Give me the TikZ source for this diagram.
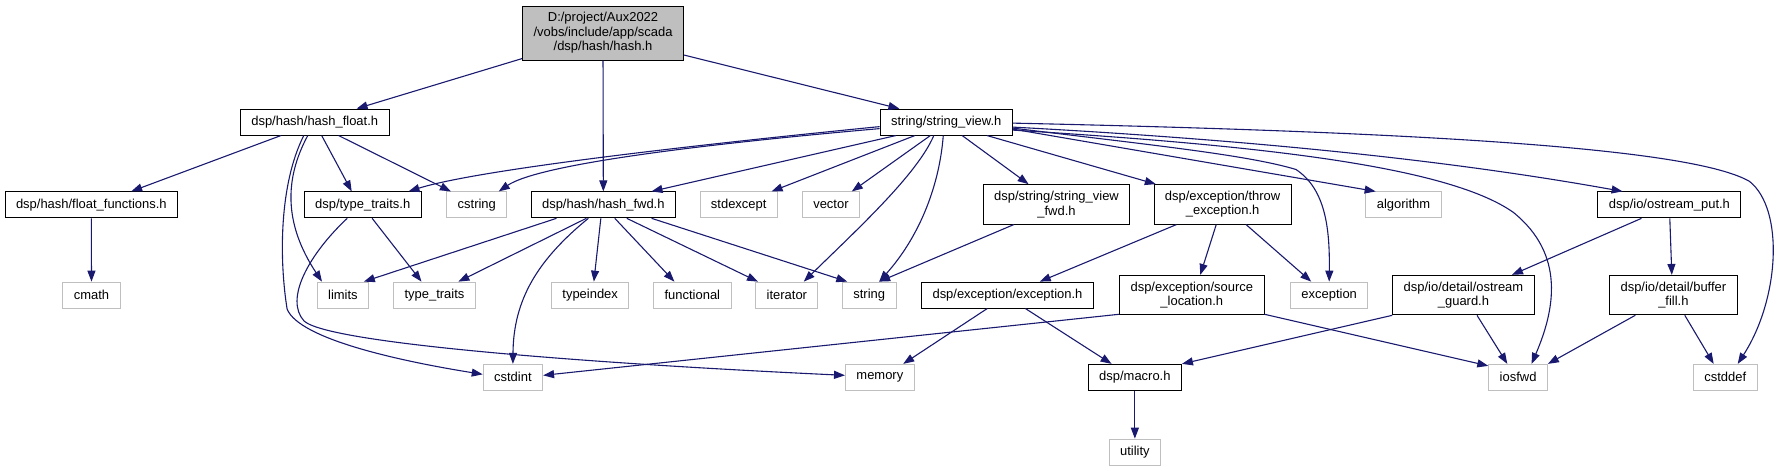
\documentclass[tikz,border=0pt]{standalone}
\usepackage{fontspec}
\setmainfont{Liberation Sans}
\usetikzlibrary{arrows.meta}
\definecolor{edgeblue}{RGB}{25,25,112}
\definecolor{sysgray}{RGB}{191,191,191}
\definecolor{rootgray}{RGB}{191,191,191}

\begin{document}
\begin{tikzpicture}[x=1pt, y=-1pt, >={Triangle[length=11pt, width=8pt]},
    hdr/.style={draw=black, fill=white, line width=1pt, font=\fontsize{13}{14.5}\selectfont,
        inner xsep=11pt, inner ysep=6.5pt, minimum height=26pt, align=center},
    syshdr/.style={hdr, draw=sysgray},
    roothdr/.style={hdr, fill=rootgray},
    incl/.style={->, draw=edgeblue, line width=1.1pt}]
\fill[white] (0,0) rectangle (1785,472);

% Root file
\node[roothdr] (root) at (604.9,33.2) {D:/project/Aux2022\\/vobs/include/app/scada\\/dsp/hash/hash.h};

% Project headers
\node[hdr] (hashfloat) at (315.7,122.5) {dsp/hash/hash\_float.h};
\node[hdr] (strview) at (949.2,122.5) {string/string\_view.h};
\node[hdr] (floatfn) at (91.6,205.5) {dsp/hash/float\_functions.h};
\node[hdr] (dsptraits) at (363.8,205.5) {dsp/type\_traits.h};
\node[hdr] (hashfwd) at (605.2,205.5) {dsp/hash/hash\_fwd.h};
\node[hdr] (strviewfwd) at (1059.8,205) {dsp/string/string\_view\\\_fwd.h};
\node[hdr] (throwex) at (1226.4,205) {dsp/exception/throw\\\_exception.h};
\node[hdr] (ostreamput) at (1674.6,205.5) {dsp/io/ostream\_put.h};
\node[hdr] (exch) at (1010.6,296) {dsp/exception/exception.h};
\node[hdr] (srcloc) at (1195.5,296) {dsp/exception/source\\\_location.h};
\node[hdr] (osguard) at (1468,296) {dsp/io/detail/ostream\\\_guard.h};
\node[hdr] (buffill) at (1678.6,296) {dsp/io/detail/buffer\\\_fill.h};
\node[hdr] (macro) at (1138.4,378.5) {dsp/macro.h};

% System headers
\foreach \nm/\x/\y/\txt in {cstring/478.3/205.5/cstring, stdexcept/741/205.5/stdexcept,
    vector/833.5/205.5/vector, algorithm/1407.9/205.5/algorithm, cmath/91.8/296/cmath,
    limits/344/296/limits, typetraits/435.8/296/type\_traits, typeindex/592/296/typeindex,
    functional/694.5/296/functional, iterator/789.3/296/iterator, string/871.9/296/string,
    exception/1333.3/296/exception, cstdint/514.5/378.5/cstdint, memory/882.6/378.5/memory,
    iosfwd/1522.8/378.5/iosfwd, cstddef/1730.6/378.5/cstddef, utility/1138.4/453.5/utility}
  \node[syshdr] (\nm) at (\x,\y) {\txt};

% Includes of hash.h
\draw[incl] ([yshift=2pt]root.south west) -- ([xshift=42pt]hashfloat.north);
\draw[incl] (root.south) -- (hashfwd.north);
\draw[incl] ([yshift=-22pt]root.east) -- ([xshift=-47pt]strview.north);

% hash_float.h
\draw[incl] ([xshift=-34pt]hashfloat.south) -- ([xshift=40pt]floatfn.north);
\draw[incl] ([xshift=7pt]hashfloat.south) -- ([xshift=-11pt]dsptraits.north);
\draw[incl] ([xshift=24pt]hashfloat.south) -- ([xshift=-26pt]cstring.north);
\draw[incl] ([xshift=-7pt]hashfloat.south) .. controls (285,180) and (285,225) .. ([xshift=-21pt]limits.north);
\draw[incl] ([xshift=-11pt]hashfloat.south) .. controls (280,185) and (280,260) .. (288,310)
    .. controls (300,340) and (400,362) .. ([yshift=3pt]cstdint.west);

% float_functions.h, type_traits.h
\draw[incl] (floatfn) -- (cmath);
\draw[incl] ([xshift=9.5pt]dsptraits.south) -- ([xshift=-13pt]typetraits.north);
\draw[incl] ([xshift=-15.5pt]dsptraits.south) .. controls (310,255) and (285,300) .. (305,322)
    .. controls (330,345) and (600,365) .. ([yshift=2pt]memory.west);

% string_view.h
\draw[incl] ([yshift=-4.5pt]strview.west) .. controls (700,145) and (480,170) .. ([xshift=46pt]dsptraits.north);
\draw[incl] ([yshift=-6.5pt]strview.west) .. controls (700,145) and (540,165) .. ([xshift=22pt]cstring.north);
\draw[incl] ([xshift=-50.7pt]strview.south) -- ([xshift=48.4pt]hashfwd.north);
\draw[incl] ([xshift=-31.6pt]strview.south) -- ([xshift=33pt]stdexcept.north);
\draw[incl] ([xshift=-16pt]strview.south) -- ([xshift=21pt]vector.north);
\draw[incl] ([xshift=-12.5pt]strview.south) .. controls (920,175) and (860,230) .. ([xshift=17pt]iterator.north);
\draw[incl] ([xshift=-3pt]strview.south) .. controls (942,190) and (920,240) .. ([xshift=10pt]string.north);
\draw[incl] ([xshift=16pt]strview.south) -- ([xshift=-28pt]strviewfwd.north);
\draw[incl] ([xshift=41pt]strview.south) -- ([xshift=-67pt]throwex.north);
\draw[incl] ([yshift=-1pt]strview.east) .. controls (1450,133) and (1700,150) .. (1755,182)
    .. controls (1790,210) and (1785,300) .. ([xshift=12.5pt]cstddef.north);
\draw[incl] ([yshift=-5pt]strview.east) .. controls (1250,140) and (1450,160) .. ([xshift=-47pt]ostreamput.north);
\draw[incl] ([yshift=-6pt]strview.east) .. controls (1150,145) and (1250,155) .. (1300,170)
    .. controls (1330,190) and (1334,230) .. (exception.north);
\draw[incl] ([yshift=-7pt]strview.east) -- ([xshift=-28pt]algorithm.north);
\draw[incl] ([yshift=-8pt]strview.east) .. controls (1250,145) and (1450,165) .. (1518,213)
    .. controls (1570,255) and (1560,310) .. ([xshift=13.5pt]iosfwd.north);

% hash_fwd.h
\draw[incl] ([xshift=-47pt]hashfwd.south) -- ([xshift=21pt]limits.north);
\draw[incl] ([xshift=-17pt]hashfwd.south) -- ([xshift=24pt]typetraits.north);
\draw[incl] ([xshift=-15pt]hashfwd.south) .. controls (540,260) and (515,300) .. (cstdint.north);
\draw[incl] ([xshift=-2.5pt]hashfwd.south) -- ([xshift=3.7pt]typeindex.north);
\draw[incl] ([xshift=11.5pt]hashfwd.south) -- ([xshift=-18pt]functional.north);
\draw[incl] ([xshift=23.5pt]hashfwd.south) -- ([xshift=-29pt]iterator.north);
\draw[incl] ([xshift=48.4pt]hashfwd.south) -- ([xshift=-22pt]string.north);

% Second level
\draw[incl] ([xshift=-42.8pt]strviewfwd.south) -- ([xshift=10pt]string.north);
\draw[incl] ([xshift=-46.4pt]throwex.south) -- ([xshift=32.4pt]exch.north);
\draw[incl] ([xshift=-6.4pt]throwex.south) -- ([xshift=8.5pt]srcloc.north);
\draw[incl] ([xshift=23.6pt]throwex.south) -- ([xshift=-18pt]exception.north);
\draw[incl] ([xshift=-28pt]ostreamput.south) -- ([xshift=48.7pt]osguard.north);
\draw[incl] ([xshift=0.4pt]ostreamput.south) -- ([xshift=-1.6pt]buffill.north);

% Third level
\draw[incl] ([xshift=-20.3pt]exch.south) -- ([xshift=23.4pt]memory.north);
\draw[incl] ([xshift=18pt]exch.south) -- ([xshift=-23.4pt]macro.north);
\draw[incl] ([yshift=1pt]srcloc.south west) -- ([yshift=2pt]cstdint.east);
\draw[incl] ([yshift=1pt]srcloc.south east) -- ([yshift=-2pt]iosfwd.north west);
\draw[incl] (osguard.south west) -- (macro.north east);
\draw[incl] ([xshift=13.6pt]osguard.south) -- ([xshift=-10.8pt]iosfwd.north);
\draw[incl] ([xshift=-38.2pt]buffill.south) -- (iosfwd.north east);
\draw[incl] ([xshift=11.4pt]buffill.south) -- ([xshift=-11.6pt]cstddef.north);
\draw[incl] (macro) -- (utility);
\end{tikzpicture}
\end{document}
